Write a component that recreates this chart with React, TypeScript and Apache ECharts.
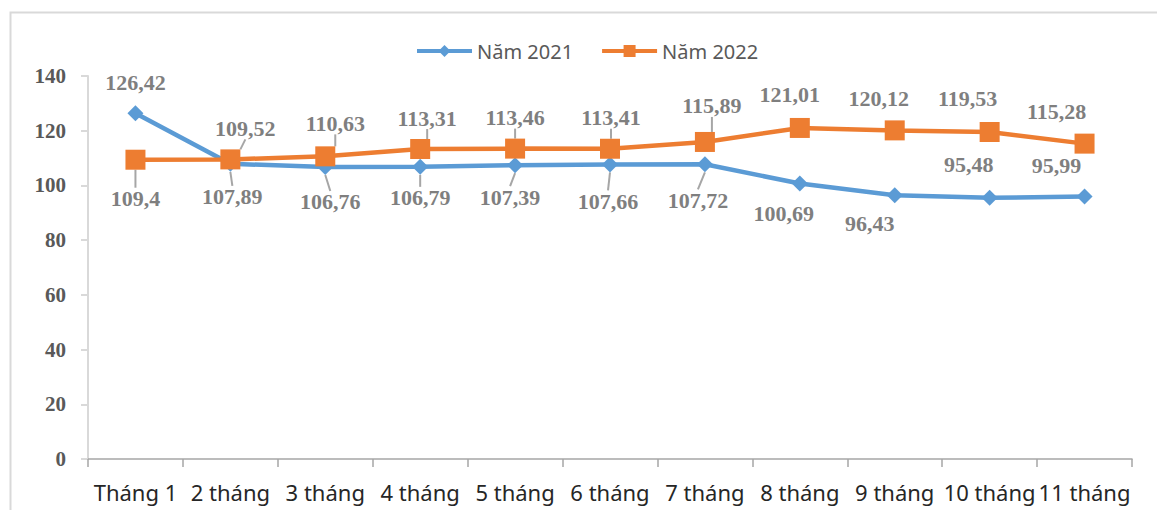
import React, { useEffect, useRef } from "react";
import * as echarts from "echarts";

const categories = ["Tháng 1", "2 tháng", "3 tháng", "4 tháng", "5 tháng", "6 tháng", "7 tháng", "8 tháng", "9 tháng", "10 tháng", "11 tháng"];
const values2021 = [126.42, 107.89, 106.76, 106.79, 107.39, 107.66, 107.72, 100.69, 96.43, 95.48, 95.99];
const values2022 = [109.4, 109.52, 110.63, 113.31, 113.46, 113.41, 115.89, 121.01, 120.12, 119.53, 115.28];
const yTicks = { min: 0, max: 140, interval: 20 };

// label offsets (layout only) relative to the marker centre
const off2021 = [[0, -31], [2, 33], [5, 35], [0, 31], [-5, 32], [-2, 37], [-7, 36], [-16, 30], [-25, 28], [-21, -33], [-28, -31]];
const off2022 = [[0, 39], [15, -31], [10, -33], [7, -31], [0, -31], [1, -31], [7, -36], [-10, -33], [-16, -32], [-22, -34], [-28, -32]];
const line2021 = [false, true, true, true, true, true, true, false, false, false, false];
const line2022 = [true, true, true, true, true, true, true, false, false, false, false];

const fmt = (v: number) => String(v).replace(".", ",");

export default function App() {
  const ref = useRef<HTMLDivElement>(null);
  useEffect(() => {
    if (!ref.current) return;
    const chart = echarts.init(ref.current, null, { renderer: "svg" });
    const labelStyle = {
      show: true,
      position: "inside" as const,
      fontFamily: "Liberation Serif",
      fontWeight: "bold" as const,
      fontSize: 22,
      color: "#7f7f7f",
      formatter: (p: any) => fmt(p.value),
    };
    const mkLayout = (offs: number[][]) => (p: any) => {
      const o = offs[p.dataIndex];
      return {
        x: p.rect.x + p.rect.width / 2 + o[0],
        y: p.rect.y + p.rect.height / 2 + o[1],
        align: "center",
        verticalAlign: "middle",
      };
    };
    const mkData = (vals: number[], lines: boolean[]) =>
      vals.map((v, i) => ({ value: v, labelLine: { show: lines[i] } }));
    chart.setOption({
      animation: false,
      graphic: [
        {
          type: "rect",
          left: 8,
          top: 10,
          shape: { width: 1170, height: 520 },
          style: { fill: "none", stroke: "#d9d9d9", lineWidth: 2 },
          silent: true,
        },
      ],
      legend: {
        top: 36,
        left: 410,
        itemWidth: 55,
        itemHeight: 15,
        itemGap: 27,
        lineStyle: { width: 4 },
        textStyle: { fontFamily: "Noto Sans", fontSize: 20, color: "#595959" },
        data: ["Năm 2021", "Năm 2022"],
      },
      grid: { left: 88, right: 25, top: 76, bottom: 51 },
      xAxis: {
        type: "category",
        data: categories,
        boundaryGap: true,
        axisLine: { lineStyle: { color: "#a6a6a6", width: 1.5 } },
        axisTick: { show: true, length: 8, lineStyle: { color: "#a6a6a6", width: 1.5 } },
        axisLabel: {
          interval: 0,
          margin: 22,
          fontFamily: "Noto Sans",
          fontSize: 22,
          color: "#262626",
        },
        splitLine: { show: false },
      },
      yAxis: {
        type: "value",
        min: yTicks.min,
        max: yTicks.max,
        interval: yTicks.interval,
        axisLine: { show: true, lineStyle: { color: "#d9d9d9", width: 2 } },
        axisTick: { show: true, length: 7, lineStyle: { color: "#d9d9d9", width: 2 } },
        axisLabel: {
          margin: 22,
          fontFamily: "Liberation Serif",
          fontWeight: "bold",
          fontSize: 21,
          color: "#595959",
        },
        splitLine: { show: false },
      },
      series: [
        {
          name: "Năm 2021",
          type: "line",
          data: mkData(values2021, line2021),
          symbol: "diamond",
          symbolSize: 16,
          color: "#5b9bd5",
          lineStyle: { width: 4.5, color: "#5b9bd5" },
          itemStyle: { color: "#5b9bd5" },
          label: labelStyle,
          labelLine: { show: true, lineStyle: { color: "#a6a6a6", width: 2 } },
          labelLayout: mkLayout(off2021),
          z: 2,
        },
        {
          name: "Năm 2022",
          type: "line",
          data: mkData(values2022, line2022),
          symbol: "rect",
          symbolSize: 20,
          color: "#ed7d31",
          lineStyle: { width: 4.5, color: "#ed7d31" },
          itemStyle: { color: "#ed7d31" },
          label: labelStyle,
          labelLine: { show: true, lineStyle: { color: "#a6a6a6", width: 2 } },
          labelLayout: mkLayout(off2022),
          z: 3,
        },
      ],
    });
    return () => chart.dispose();
  }, []);
  return (
    <div
      ref={ref}
      style={{ position: "fixed", left: 0, top: 0, width: 1157, height: 510, background: "#fff" }}
    />
  );
}
